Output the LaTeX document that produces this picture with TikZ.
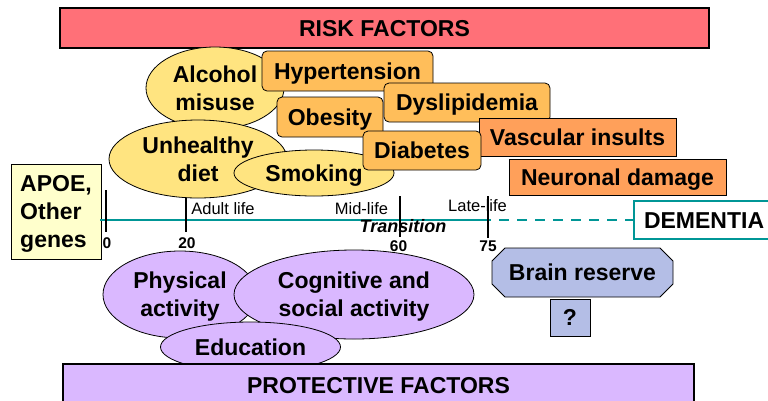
\documentclass[tikz,border=0pt]{standalone}
\usepackage{fontspec}
\setmainfont{Liberation Sans}
\usetikzlibrary{shapes.geometric}
\definecolor{riskred}{RGB}{255,112,120}
\definecolor{yel}{RGB}{255,228,128}
\definecolor{orl}{RGB}{255,190,90}
\definecolor{ord}{RGB}{255,160,90}
\definecolor{apoecol}{RGB}{255,255,204}
\definecolor{tealc}{RGB}{0,150,150}
\definecolor{lav}{RGB}{218,184,255}
\definecolor{brainc}{RGB}{180,190,230}
\begin{document}
\begin{tikzpicture}[x=1pt,y=-1pt,
  bigtxt/.style={font=\fontsize{23}{28}\selectfont\bfseries},
  oneline/.style={text height=16.5pt, text depth=0pt},
  yellip/.style={ellipse, draw=black, line width=0.8pt, fill=yel, bigtxt, align=center, inner sep=-6pt},
  lellip/.style={ellipse, draw=black, line width=0.8pt, fill=lav, bigtxt, align=center, inner sep=-6pt},
  obox/.style={rectangle, rounded corners=5pt, draw=black, line width=0.8pt, fill=orl, bigtxt, oneline, inner sep=0pt},
  dbox/.style={rectangle, draw=black, line width=0.8pt, fill=ord, bigtxt, oneline, inner sep=0pt},
  smalltxt/.style={font=\fontsize{16.5}{18}\selectfont, text height=11.8pt, text depth=0pt, inner sep=0pt},
  numtxt/.style={font=\fontsize{15.5}{18}\selectfont\bfseries, text height=11pt, text depth=0pt, inner sep=0pt},
  tickline/.style={draw=black, line width=2pt},
  timeline/.style={draw=tealc, line width=2.6pt}
]
\useasboundingbox (0,0) rectangle (768,400);

% risk factors bar
\node[rectangle, draw=black, line width=1.8pt, fill=riskred, bigtxt, oneline, inner sep=0pt,
      minimum width=649pt, minimum height=40pt] (risk) at (384.5,28) {RISK FACTORS};

% APOE box
\node[rectangle, draw=black, line width=0.8pt, fill=apoecol, bigtxt, align=left, inner sep=0pt,
      minimum width=90pt, minimum height=95pt] (apoe) at (56,211.5) {APOE,\\Other\\\smash{genes}};

% timeline
\coordinate (tl0) at (100,220);
\coordinate (tl75) at (481,220);
\node[rectangle, draw=tealc, line width=2pt, fill=white, bigtxt, oneline, inner sep=0pt,
      minimum width=141pt, minimum height=38pt, text width=121pt, align=left] (dem) at (704.5,220) {DEMENTIA};
\draw[timeline] (tl0) -- (tl75);
\draw[timeline, dash pattern=on 10pt off 8pt] (tl75) -- (dem.west);

% ticks
\coordinate (t0a) at (106,190); \coordinate (t0b) at (106,232);
\coordinate (t20a) at (186,197); \coordinate (t20b) at (186,232);
\coordinate (t60a) at (400,196); \coordinate (t60b) at (400,237);
\coordinate (t75a) at (488,196); \coordinate (t75b) at (488,238);
\draw[tickline] (t0a) -- (t0b);
\draw[tickline] (t20a) -- (t20b);
\draw[tickline] (t60a) -- (t60b);
\draw[tickline] (t75a) -- (t75b);

\node[numtxt] (n0) at (107,242.5) {0};
\node[numtxt] (n20) at (187,242.5) {20};
\node[numtxt] (n60) at (398.5,246) {60};
\node[numtxt] (n75) at (488,246) {75};
\node[smalltxt] (adult) at (223,209) {Adult life};
\node[smalltxt] (mid) at (361.5,209) {Mid-life};
\node[smalltxt] (late) at (477.5,206) {Late-life};
\node[font=\fontsize{18}{20}\selectfont\bfseries\itshape, text height=12.7pt, text depth=0pt, inner sep=0pt] (trans) at (403,226.5) {Transition};

% risk factor shapes
\node[yellip, minimum width=138pt, minimum height=82pt] (alc) at (215,88) {Alcohol\\misuse};
\node[obox, minimum width=171pt, minimum height=40pt] (hyp) at (347.5,71) {Hypertension};
\node[obox, minimum width=106pt, minimum height=40pt] (obe) at (330,117) {Obesity};
\node[yellip, minimum width=178pt, minimum height=78pt] (diet) at (198,159) {Unhealthy\\diet};
\node[yellip, oneline, minimum width=160pt, minimum height=46pt] (smok) at (314,173) {Smoking};
\node[obox, minimum width=166pt, minimum height=39pt] (dys) at (467,102.5) {Dyslipidemia};
\node[dbox, minimum width=197pt, minimum height=38pt] (vasc) at (577.5,137) {Vascular insults};
\node[obox, minimum width=118pt, minimum height=39pt] (diab) at (422,150.5) {Diabetes};
\node[dbox, minimum width=217pt, minimum height=36pt] (neur) at (617.5,177) {Neuronal damage};

% protective shapes
\node[lellip, minimum width=154pt, minimum height=87pt] (phys) at (180,294.5) {Physical\\\smash{activity}};
\node[lellip, minimum width=240pt, minimum height=89pt] (cogn) at (354,294.5) {Cognitive and\\\smash{social activity}};
\node[lellip, oneline, minimum width=180pt, minimum height=50pt] (edu) at (250.5,347) {Education};
\node[rectangle, draw=black, line width=1.8pt, fill=lav, bigtxt, oneline, inner sep=0pt,
      minimum width=631pt, minimum height=42pt] (prot) at (378.5,385) {PROTECTIVE FACTORS};

% brain reserve
\path[draw=black, line width=0.8pt, fill=brainc] (505,248) -- (660,248) -- (673,261) -- (673,284)
   -- (660,297) -- (505,297) -- (492,284) -- (492,261) -- cycle;
\node[bigtxt, oneline, inner sep=0pt] (brain) at (582.5,272) {Brain reserve};
\node[rectangle, draw=black, line width=0.8pt, fill=brainc, bigtxt, oneline, inner sep=0pt,
      minimum width=40pt, minimum height=37pt] (q) at (570,317.5) {?};
\end{tikzpicture}
\end{document}
